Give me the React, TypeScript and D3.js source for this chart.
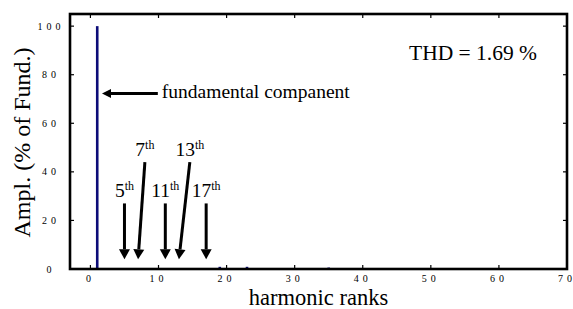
import React from "react";
import * as d3 from "d3";

// harmonic spectrum (% of fundamental)
const harmonicOrders = [1, 5, 7, 11, 13, 17, 19, 23, 35];
const harmonicAmpl = [100, 0.3, 0.3, 0.3, 0.3, 0.3, 0.9, 0.9, 0.6];

const xTicks = [0, 10, 20, 30, 40, 50, 60, 70];
const yTicks = [0, 20, 40, 60, 80, 100];

// annotated harmonics and where their arrows start (data units)
const markedOrders = [5, 7, 11, 13, 17];
const arrowTailX = [5, 8, 11, 14.6, 17];
const arrowTailY = [27, 44, 27, 44, 27];
const arrowTipY = 4;

// fundamental pointer (data units)
const fundTail = [9.9, 72.3];
const fundTip = [1.7, 72.3];

const thdText = "THD = 1.69 %";

const W = 573;
const H = 309;
const margin = { top: 14, right: 6, bottom: 40, left: 70 };
const font = "'Liberation Serif', 'Times New Roman', serif";

function arrowHead(x1: number, y1: number, x2: number, y2: number, len: number, half: number) {
  const dx = x2 - x1;
  const dy = y2 - y1;
  const d = Math.hypot(dx, dy);
  const ux = dx / d;
  const uy = dy / d;
  const bx = x2 - ux * len;
  const by = y2 - uy * len;
  return {
    bx,
    by,
    points: `${x2},${y2} ${bx - uy * half},${by + ux * half} ${bx + uy * half},${by - ux * half}`,
  };
}

// spaced-out tick label, one tspan per digit
function SpacedLabel({ cx, y, value, gap }: { cx: number; y: number; value: number; gap: number }) {
  const s = String(value).split("");
  return (
    <text y={y} fontSize={10} textAnchor="middle" fontFamily={font}>
      {s.map((c, i) => (
        <tspan key={i} x={cx + (i - (s.length - 1) / 2) * gap}>
          {c}
        </tspan>
      ))}
    </text>
  );
}

export default function App() {
  const x = d3.scaleLinear().domain([-3, 70]).range([margin.left, W - margin.right]);
  const y = d3.scaleLinear().domain([0, 105]).range([H - margin.bottom, margin.top]);
  const left = margin.left;
  const right = W - margin.right;
  const top = margin.top;
  const bottom = H - margin.bottom;

  const fh = arrowHead(x(fundTail[0]), y(fundTail[1]), x(fundTip[0]), y(fundTip[1]), 9, 4.5);

  return (
    <div style={{ position: "absolute", left: 0, top: 0 }}>
      <svg width={W} height={H} style={{ display: "block" }}>
        {/* stems */}
        {harmonicOrders.map((h, i) => (
          <rect
            key={h}
            x={x(h) - 1.3}
            y={y(harmonicAmpl[i])}
            width={2.6}
            height={y(0) - y(harmonicAmpl[i])}
            fill="#0c0c78"
          />
        ))}

        {/* tick labels */}
        {xTicks.map((t) => (
          <SpacedLabel key={t} cx={x(t) - 2} y={bottom + 13} value={t} gap={9} />
        ))}
        {yTicks.map((t) => (
          <SpacedLabel key={t} cx={49} y={y(t) + 3.5} value={t} gap={9} />
        ))}

        {/* fundamental arrow */}
        <line
          x1={x(fundTail[0])}
          y1={y(fundTail[1])}
          x2={fh.bx}
          y2={fh.by}
          stroke="#000"
          strokeWidth={3}
        />
        <polygon points={fh.points} fill="#000" />
        <text x={x(fundTail[0]) + 4} y={y(fundTail[1]) + 5} fontSize={19.5} fontFamily={font}>
          fundamental companent
        </text>

        {/* harmonic arrows */}
        {markedOrders.map((h, i) => {
          const tx = x(arrowTailX[i]);
          const ty = y(arrowTailY[i]);
          const a = arrowHead(tx, ty, x(h), y(arrowTipY), 10, 5.5);
          return (
            <g key={h}>
              <line x1={tx} y1={ty} x2={a.bx} y2={a.by} stroke="#000" strokeWidth={3} />
              <polygon points={a.points} fill="#000" />
              <text x={tx} y={ty - 6} textAnchor="middle" fontSize={19.5} fontFamily={font}>
                {h}
                <tspan fontSize={12} dy={-7}>
                  th
                </tspan>
              </text>
            </g>
          );
        })}

        {/* THD */}
        <text x={right - 30} y={60} textAnchor="end" fontSize={21.5} fontFamily={font}>
          {thdText}
        </text>

        {/* axis titles */}
        <text x={(left + right) / 2} y={305} textAnchor="middle" fontSize={22.5} fontFamily={font}>
          harmonic ranks
        </text>
        <text
          transform={`translate(30,${(top + bottom) / 2 + 1}) rotate(-90)`}
          textAnchor="middle"
          fontSize={24}
          fontFamily={font}
        >
          Ampl. (% of Fund.)
        </text>

        {/* inward ticks */}
        {xTicks.map((t) => (
          <g key={t}>
            <line x1={x(t)} x2={x(t)} y1={bottom} y2={bottom - 4} stroke="#000" strokeWidth={1.2} />
            <line x1={x(t)} x2={x(t)} y1={top} y2={top + 4} stroke="#000" strokeWidth={1.2} />
          </g>
        ))}
        {yTicks.map((t) => (
          <g key={t}>
            <line x1={left} x2={left + 4} y1={y(t)} y2={y(t)} stroke="#000" strokeWidth={1.2} />
            <line x1={right} x2={right - 4} y1={y(t)} y2={y(t)} stroke="#000" strokeWidth={1.2} />
          </g>
        ))}

        {/* frame */}
        <rect
          x={left}
          y={top}
          width={right - left}
          height={bottom - top}
          fill="none"
          stroke="#000"
          strokeWidth={2.6}
        />
      </svg>
    </div>
  );
}
